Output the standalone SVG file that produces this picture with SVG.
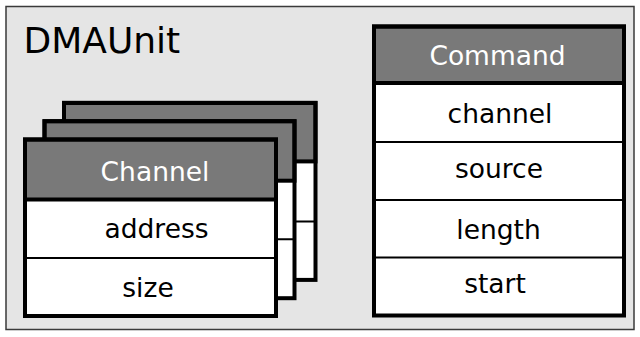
<svg xmlns="http://www.w3.org/2000/svg" width="640" height="337" viewBox="0 0 640 337">
  <style>
    .frame { fill: #e5e5e5; stroke: #3a3a3a; stroke-width: 1.5; }
    .hdr { fill: #797979; stroke: #000; stroke-width: 4; }
    .row { fill: #fff; stroke: #000; stroke-width: 2; }
    .border { fill: none; stroke: #000; stroke-width: 4; }
    .t { font-family: "DejaVu Sans", "Liberation Sans", sans-serif; font-size: 26.5px; text-anchor: middle; fill: #000; }
    .th { font-family: "DejaVu Sans", "Liberation Sans", sans-serif; font-size: 26.5px; text-anchor: middle; fill: #fff; }
    .title { font-family: "DejaVu Sans", "Liberation Sans", sans-serif; font-size: 36px; fill: #000; }
  </style>
  <g id="dmaunit">
    <rect class="frame" x="6" y="6.5" width="628" height="323"/>
    <text class="title" x="23.5" y="53">DMAUnit</text>
  </g>
  <g id="channel-back">
    <rect class="row" x="64" y="102.9" width="251.5" height="177"/>
    <line class="row" x1="64" y1="221.4" x2="315.5" y2="221.4"/>
    <rect class="hdr" x="64" y="102.9" width="251.5" height="58.5"/>
    <rect class="border" x="64" y="102.9" width="251.5" height="177"/>
  </g>
  <g id="channel-middle">
    <rect class="row" x="44.5" y="121.2" width="250" height="177"/>
    <line class="row" x1="44.5" y1="239.2" x2="294.5" y2="239.2"/>
    <rect class="hdr" x="44.5" y="121.2" width="250" height="59.5"/>
    <rect class="border" x="44.5" y="121.2" width="250" height="177"/>
  </g>
  <g id="channel">
    <rect class="row" x="25" y="139.5" width="251" height="176.5"/>
    <line class="row" x1="25" y1="258" x2="276" y2="258"/>
    <rect class="hdr" x="25" y="139.5" width="251" height="60"/>
    <rect class="border" x="25" y="139.5" width="251" height="176.5"/>
    <text class="th" x="155" y="180.5">Channel</text>
    <text class="t" x="156.5" y="237.5">address</text>
    <text class="t" x="148" y="296.5">size</text>
  </g>
  <g id="command">
    <rect class="row" x="374" y="26.5" width="250" height="289"/>
    <line class="row" x1="374" y1="142" x2="624" y2="142"/>
    <line class="row" x1="374" y1="200" x2="624" y2="200"/>
    <line class="row" x1="374" y1="257.5" x2="624" y2="257.5"/>
    <rect class="hdr" x="374" y="26.5" width="250" height="56.5"/>
    <rect class="border" x="374" y="26.5" width="250" height="289"/>
    <text class="th" x="497.5" y="64.5">Command</text>
    <text class="t" x="500" y="123.3">channel</text>
    <text class="t" x="499" y="178.3">source</text>
    <text class="t" x="498.5" y="239">length</text>
    <text class="t" x="495" y="293.3">start</text>
  </g>
  <g id="connectors"/>
</svg>
